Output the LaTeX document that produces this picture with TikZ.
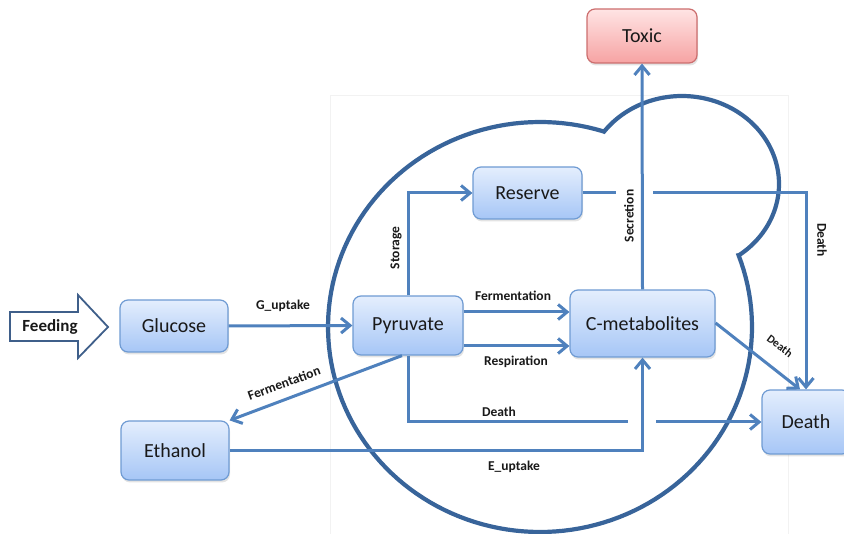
\documentclass[tikz,border=0pt]{standalone}
\usepackage{fontspec}
\setmainfont{Carlito}
\usetikzlibrary{arrows.meta,shadows,calc}

\definecolor{flow}{HTML}{4F81BD}
\definecolor{cellline}{HTML}{38649A}
\definecolor{boxtop}{HTML}{E4EEFD}
\definecolor{boxbot}{HTML}{A6C6F6}
\definecolor{boxline}{HTML}{6F9BD3}
\definecolor{toxtop}{HTML}{FFE4E4}
\definecolor{toxbot}{HTML}{F6A3A3}
\definecolor{toxline}{HTML}{CC6E6E}
\definecolor{feedline}{HTML}{3F5F8A}

\begin{document}
\begin{tikzpicture}[x=1pt,y=-1pt,
  box/.style={draw=boxline, line width=1.2pt, rounded corners=8pt,
    top color=boxtop, bottom color=boxbot, text=black!90, inner sep=0pt,
    font=\fontsize{20}{24}\selectfont,
    drop shadow={shadow xshift=1pt, shadow yshift=-2.5pt, opacity=.22}},
  toxbox/.style={box, draw=toxline, top color=toxtop, bottom color=toxbot},
  link/.style={draw=flow, line width=3pt},
  linkarrow/.style={link, -{Straight Barb[length=9pt,width=15pt]}},
  lbl/.style={font=\fontsize{13.5}{15}\selectfont\bfseries, text=black!90, inner sep=1pt},
  cell/.style={draw=cellline, line width=4.2pt}
]
\useasboundingbox (0,0) rectangle (844,534);

% faint frame of the cell panel
\draw[black!5, line width=0.8pt] (330,95) rectangle (788,545);

% cell outline: large body with a budding lobe at the upper right
\draw[cell] plot[domain=-20.5:287.3, samples=140] ({540+212*cos(\x)},{327+205*sin(\x)})
  -- plot[domain=-143.5:53.9, samples=90] ({682+97*cos(\x)},{184+88*sin(\x)}) -- cycle;

% feeding input arrow
\draw[draw=feedline, fill=white, line width=1.8pt, line join=miter]
  (10,312) -- (78,312) -- (78,295) -- (108,327) -- (78,358) -- (78,341) -- (10,341) -- cycle;
\node[font=\fontsize{17}{20}\selectfont\bfseries, text=black!90] (feeding) at (50,327) {Feeding};

% compartments
\node[box, minimum width=108pt, minimum height=52pt] (glc) at (174,326) {Glucose};
\node[box, minimum width=110pt, minimum height=59pt] (pyr) at (408,325.5) {Pyruvate};
\node[box, minimum width=145pt, minimum height=67pt] (cmet) at (642.5,323.5) {C-metabolites};
\node[box, minimum width=109pt, minimum height=52pt] (res) at (527.5,193) {Reserve};
\node[box, minimum width=108pt, minimum height=59pt] (eth) at (175,450.5) {Ethanol};
\node[box, minimum width=88pt, minimum height=64pt] (death) at (806,422) {Death};
\node[toxbox, minimum width=110pt, minimum height=54pt] (toxic) at (642,36) {Toxic};

% bridge gaps where lines cross
\coordinate (gapA) at (616,193);
\coordinate (gapB) at (653,193);
\coordinate (gapC) at (628,422);
\coordinate (gapD) at (656,422);

% fluxes
\draw[linkarrow] (glc.east) -- (pyr.west);
\draw[linkarrow] (pyr.east |- 0,312) -- (cmet.west |- 0,312);
\draw[linkarrow] (pyr.east |- 0,346) -- (cmet.west |- 0,346);
\draw[linkarrow] (pyr.north) |- (res.west);
\draw[link] (res.east) -- (gapA);
\draw[linkarrow] (gapB) -| (death.north);
\draw[linkarrow] (cmet.north) -- (toxic.south);
\draw[linkarrow] (cmet.east |- 0,323) -- ($(death.north)+(-6,0)$);
\draw[link] (pyr.south) |- (gapC);
\draw[linkarrow] (gapD) -- (death.west);
\draw[linkarrow] (eth.east) -| (cmet.south);
\draw[linkarrow] ($(pyr.south)+(-6,0)$) -- (eth.north east);

% flux labels
\node[lbl] (lG) at (283,306) {G\_uptake};
\node[lbl] (lF1) at (513,296) {Fermentation};
\node[lbl] (lR) at (516,362) {Respiration};
\node[lbl, rotate=90] (lS) at (396,248) {Storage};
\node[lbl, rotate=90] (lSec) at (629,216) {Secretion};
\node[lbl, rotate=-90] (lD1) at (822,240) {Death};
\node[lbl, rotate=-37, font=\fontsize{11.5}{13}\selectfont\bfseries] (lD2) at (780,346) {Death};
\node[lbl] (lD3) at (499,412) {Death};
\node[lbl] (lE) at (514,467) {E\_uptake};
\node[lbl, rotate=20] (lF2) at (284,383) {Fermentation};
\end{tikzpicture}
\end{document}
